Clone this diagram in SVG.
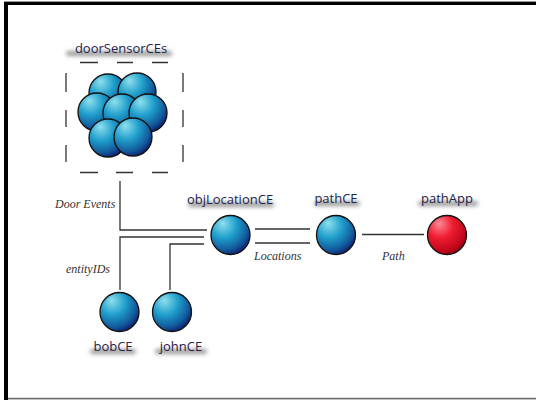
<svg xmlns="http://www.w3.org/2000/svg" width="536" height="400" viewBox="0 0 536 400">
<defs>
<radialGradient id="blue" cx="0.35" cy="0.3" r="0.75" fx="0.3" fy="0.2">
<stop offset="0" stop-color="#8fe0ee"/>
<stop offset="0.45" stop-color="#1f9ecb"/>
<stop offset="0.8" stop-color="#135a9c"/>
<stop offset="1" stop-color="#0c1f6e"/>
</radialGradient>
<radialGradient id="red" cx="0.35" cy="0.3" r="0.75" fx="0.3" fy="0.2">
<stop offset="0" stop-color="#ff8a96"/>
<stop offset="0.45" stop-color="#ee1c30"/>
<stop offset="0.85" stop-color="#c0061a"/>
<stop offset="1" stop-color="#90000f"/>
</radialGradient>
<filter id="blur" x="-20%" y="-100%" width="140%" height="300%">
<feGaussianBlur stdDeviation="2"/>
</filter>
</defs>
<style>
.ball{stroke:#111;stroke-width:1.3;fill:url(#blue)}
.redball{stroke:#111;stroke-width:1.3;fill:url(#red)}
.lbl{font-family:"Open Sans","Liberation Sans",sans-serif;font-size:13px;fill:#22224a;text-anchor:middle}
.shadow{fill:#999;filter:url(#blur)}
.edge{font-family:"Liberation Serif","DejaVu Serif",serif;font-style:italic;font-size:12px;fill:#333}
.ln{stroke:#333;stroke-width:1.3;fill:none}
.dash{stroke:#333;stroke-width:1.3;fill:none}
</style>
<rect width="536" height="400" fill="#fff"/>
<g id="frame">
<rect x="4" y="1" width="532" height="1.2" fill="#999"/>
<rect x="4" y="2" width="532" height="3" fill="#000"/>
<rect x="4" y="2" width="4" height="398" fill="#000"/>
<rect x="8" y="397.8" width="528" height="1.6" fill="#666"/>
</g>
<g id="connectors">
<path class="ln" d="M120 181 V230 H207"/>
<path class="ln" d="M120 290 V237 H204"/>
<path class="ln" d="M170 290 V244 H204"/>
<path class="ln" d="M255 229 H310 M255 243 H310"/>
<path class="ln" d="M362 234.5 H424"/>
<text class="edge" x="55" y="208">Door Events</text>
<text class="edge" x="66" y="273">entityIDs</text>
<text class="edge" x="254" y="260">Locations</text>
<text class="edge" x="382" y="260">Path</text>
</g>
<g id="doorSensorCEs">
<rect class="shadow" x="66" y="51" width="106" height="5" rx="2.5"/>
<text class="lbl" x="121" y="53">doorSensorCEs</text>
<path class="dash" d="M80 62.5 H98 M117 62.5 H133 M152 62.5 H168 M80 172.5 H98 M116 172.5 H133 M152 172.5 H168 M66 73 V92 M66 110 V127 M66 145 V162 M183 73 V92 M183 110 V127 M183 145 V162"/>
<circle class="ball" cx="108" cy="93" r="19"/>
<circle class="ball" cx="137" cy="92" r="19"/>
<circle class="ball" cx="97" cy="112" r="19"/>
<circle class="ball" cx="122" cy="113" r="19"/>
<circle class="ball" cx="148" cy="113" r="19"/>
<circle class="ball" cx="108" cy="138" r="19"/>
<circle class="ball" cx="133" cy="137" r="19"/>
</g>
<g id="objLocationCE">
<rect class="shadow" x="188" y="202" width="86" height="5" rx="2.5"/>
<text class="lbl" x="230" y="204">objLocationCE</text>
<circle class="ball" cx="230.5" cy="235" r="19.5"/>
</g>
<g id="pathCE">
<rect class="shadow" x="314" y="201" width="46" height="5" rx="2.5"/>
<text class="lbl" x="336" y="203">pathCE</text>
<circle class="ball" cx="336" cy="235" r="19.5"/>
</g>
<g id="pathApp">
<rect class="shadow" x="418" y="201" width="60" height="5" rx="2.5"/>
<text class="lbl" x="447" y="203">pathApp</text>
<circle class="redball" cx="447" cy="235" r="19.5"/>
</g>
<g id="bobCE">
<rect class="shadow" x="90" y="349" width="46" height="5" rx="2.5"/>
<text class="lbl" x="113" y="351">bobCE</text>
<circle class="ball" cx="119.5" cy="312" r="19.5"/>
</g>
<g id="johnCE">
<rect class="shadow" x="155" y="349" width="52" height="5" rx="2.5"/>
<text class="lbl" x="181" y="351">johnCE</text>
<circle class="ball" cx="172" cy="312" r="19.5"/>
</g>
</svg>
